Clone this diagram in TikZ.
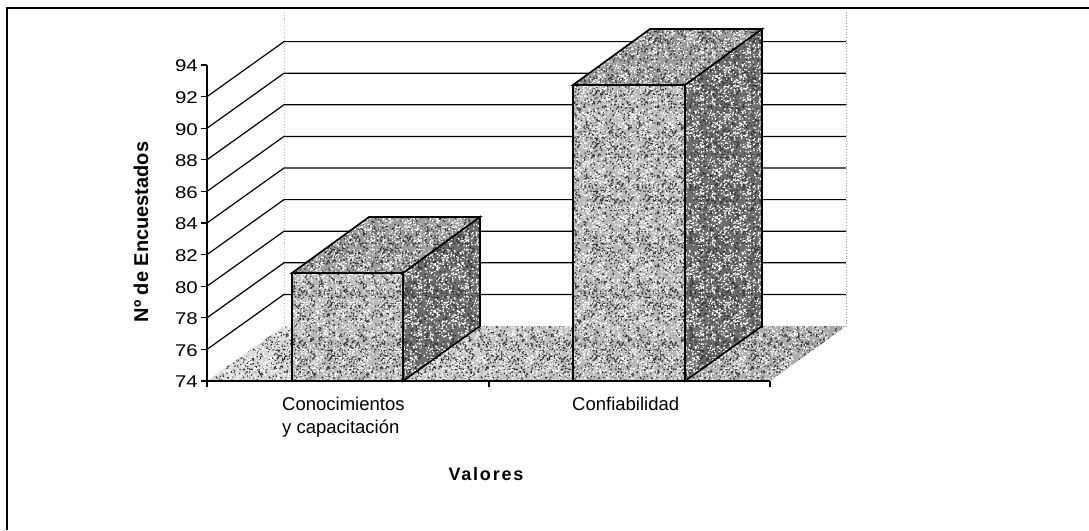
\documentclass[tikz,border=0pt]{standalone}
\usepackage{fontspec}
\usetikzlibrary{patterns.meta}
\setmainfont{Liberation Sans}
\newfontfamily\widefont[FakeStretch=1.2]{Liberation Sans}
\pgfmathsetseed{11}
\tikzdeclarepattern{
  name=darknoise,
  type=uncolored,
  bottom left={(0pt,0pt)},
  top right={(53pt,53pt)},
  tile size={(53pt,53pt)},
  code={\fill foreach \i in {1,...,330} {(rnd*52pt, rnd*52pt) rectangle ++(1.3pt,1.3pt)};}
}
\tikzdeclarepattern{
  name=lightnoise,
  type=uncolored,
  bottom left={(0pt,0pt)},
  top right={(47pt,47pt)},
  tile size={(47pt,47pt)},
  code={\fill foreach \i in {1,...,260} {(rnd*46pt, rnd*46pt) rectangle ++(1.3pt,1.3pt)};}
}
\begin{document}
\begin{tikzpicture}[x=1pt,y=-1pt,
  frameline/.style={line width=2pt},
  axisline/.style={line width=1.3pt},
  gridline/.style={line width=1.2pt},
  wallguide/.style={black!40, line width=0.8pt, dotted},
  barface/.style={draw=black, line width=1.7pt, line join=miter},
  frontfill/.style={fill=black!27},
  topfill/.style={fill=black!38},
  sidefill/.style={fill=black!57},
  floorfill/.style={left color=black!14, right color=black!34},
  darkspeck/.style={pattern=darknoise, pattern color=black!80},
  lightspeck/.style={pattern=lightnoise, pattern color=white},
  ticklab/.style={font=\widefont\fontsize{17}{17}\selectfont, anchor=east, inner sep=0pt},
  catlab/.style={font=\fontsize{18.5}{23}\selectfont, align=left, anchor=north west, inner sep=0pt},
  ytitlelab/.style={font=\fontsize{20}{20}\selectfont\bfseries, inner sep=0pt},
  xtitlelab/.style={font=\fontsize{18}{18}\selectfont\bfseries\addfontfeatures{LetterSpace=10}, anchor=base, inner sep=0pt}]
\useasboundingbox (0,0) rectangle (1089,530);
% frame
\draw[frameline] (7,530) -- (7,8) -- (1089,8);
% wall guides
\draw[wallguide, black!25] (284,12) -- (284,326);
\draw[wallguide] (846,12) -- (846,326);
% gridlines on left and back walls
\foreach \v in {76,78,...,92} {
  \pgfmathsetmacro\yy{381-(\v-74)*15.8}
  \draw[gridline] (207,\yy) -- (284,\yy-55) -- (846,\yy-55);
}
% floor
\path[floorfill] (207,381) -- (770,381) -- (846,326) -- (284,326) -- cycle;
\fill[darkspeck] (207,381) -- (770,381) -- (846,326) -- (284,326) -- cycle;
\fill[lightspeck] (207,381) -- (770,381) -- (846,326) -- (284,326) -- cycle;
% axes
\draw[axisline] (207,65) -- (207,381) -- (770,381);
\foreach \v in {74,76,...,94} {
  \pgfmathsetmacro\yy{381-(\v-74)*15.8}
  \draw[axisline] (201,\yy) -- (207,\yy);
  \node[ticklab] (t\v) at (198,\yy+1) {\v};
}
\foreach \xx in {207,489,770} {
  \draw[axisline] (\xx,381) -- (\xx,387);
}
% bars: front, top and side faces
\foreach \facestyle/\facepath in {frontfill/{(292,381) rectangle (403,273)},
    topfill/{(292,273) -- (369,217) -- (480,217) -- (403,273) -- cycle},
    sidefill/{(403,273) -- (480,217) -- (480,326) -- (403,381) -- cycle},
    frontfill/{(573,381) rectangle (685,85)},
    topfill/{(573,85) -- (650,29) -- (762,29) -- (685,85) -- cycle},
    sidefill/{(685,85) -- (762,29) -- (762,326) -- (685,381) -- cycle}} {
  \fill[\facestyle] \facepath;
  \fill[darkspeck] \facepath;
  \fill[lightspeck] \facepath;
  \draw[barface] \facepath;
}
% labels
\node[ytitlelab, rotate=90] (ytitle) at (141,232) {Nº de Encuestados};
\node[catlab] (cat1) at (282,397) {Conocimientos\\y capacitación};
\node[catlab] (cat2) at (572,397) {Confiabilidad};
\node[xtitlelab] (xtitle) at (486,480) {Valores};
\end{tikzpicture}
\end{document}
